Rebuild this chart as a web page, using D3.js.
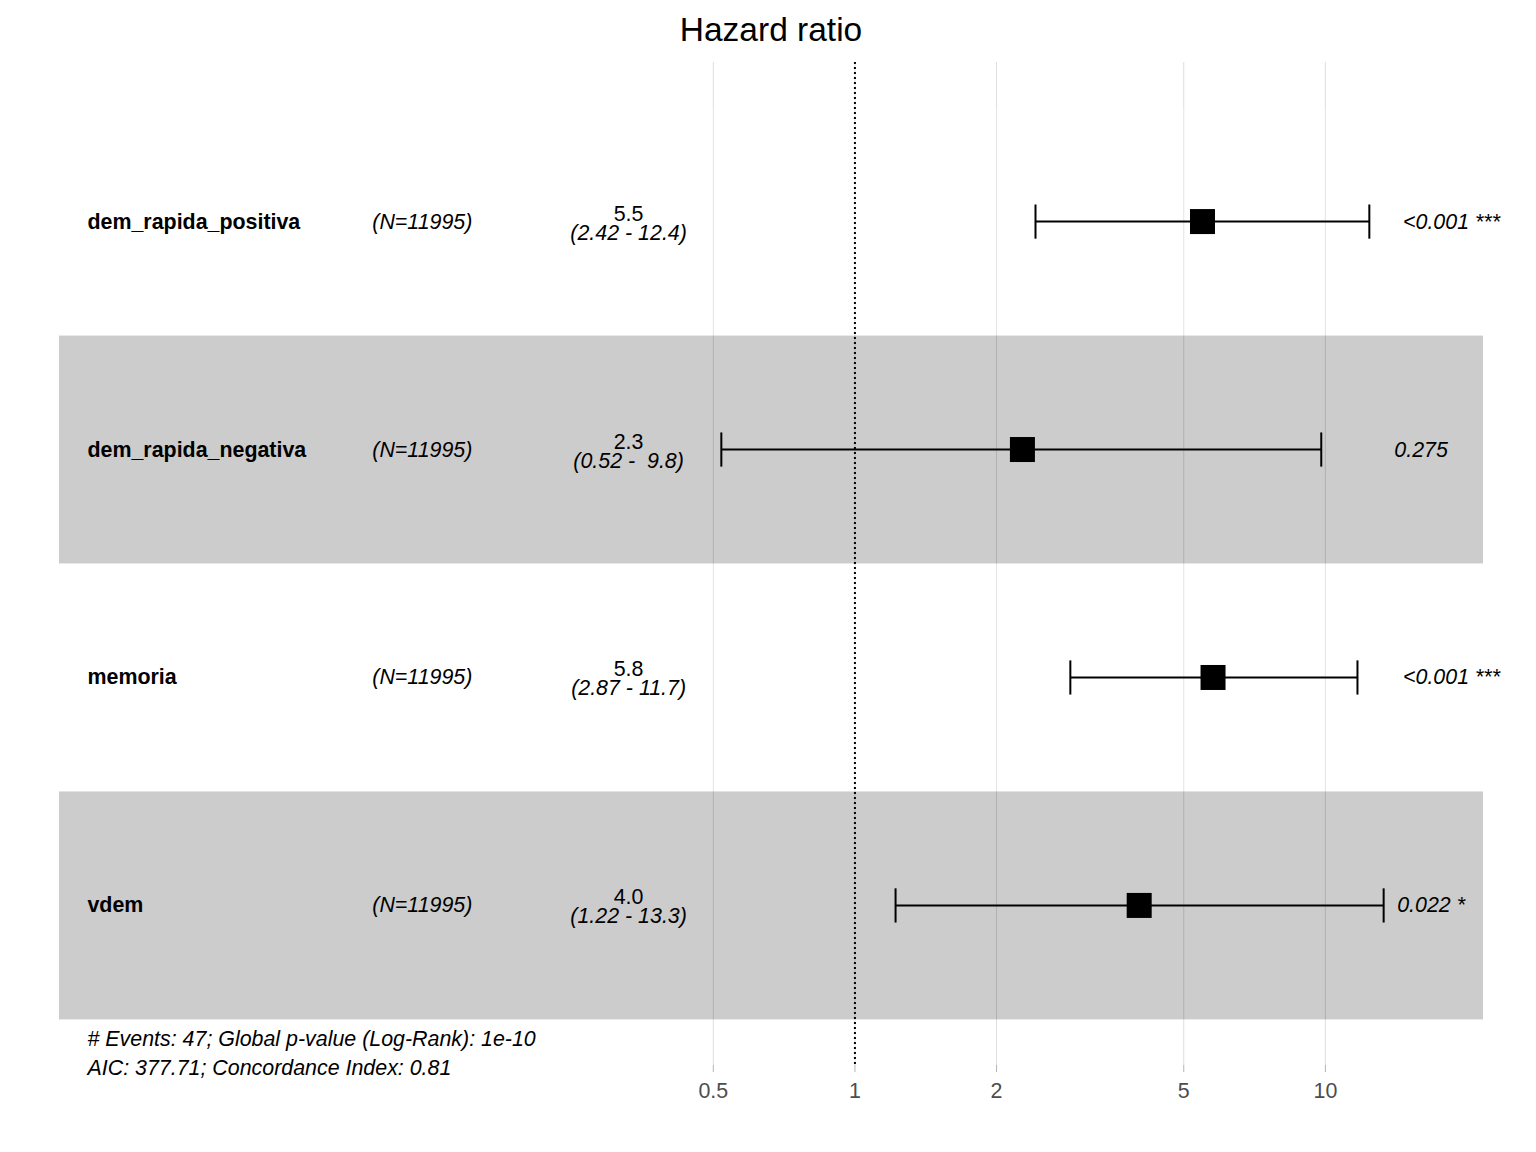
<!DOCTYPE html>
<html>
<head>
<meta charset="utf-8">
<script src="https://cdn.jsdelivr.net/npm/d3@7"></script>
<style>
  body { margin: 0; background: #fff; }
  text { font-family: 'Liberation Sans', Arial, sans-serif; }
</style>
</head>
<body>
<svg id="chart" width="1536" height="1152"></svg>
<script>
// Model rows (top to bottom)
const variables = ['dem_rapida_positiva', 'dem_rapida_negativa', 'memoria', 'vdem'];
const nLabels = ['(N=11995)', '(N=11995)', '(N=11995)', '(N=11995)'];
const hazardRatio = [5.48, 2.27, 5.77, 4.02];
const ciLow = [2.42, 0.52, 2.87, 1.22];
const ciHigh = [12.4, 9.8, 11.7, 13.3];
const pLabels = ['<0.001 ***', '0.275', '<0.001 ***', '0.022 *'];
const tickValues = [0.5, 1, 2, 5, 10];
const footerLines = [
  '# Events: 47; Global p-value (Log-Rank): 1e-10',
  'AIC: 377.71; Concordance Index: 0.81'
];

const svg = d3.select('#chart');
const panel = { top: 62, bottom: 1065, left: 59, right: 1483 };
const fontSize = 21.4;

// Horizontal layout in log space, the way the forest plot places its columns
const lnLo = Math.log(d3.min(ciLow));
const lnHi = Math.log(d3.max(ciHigh));
const span = lnHi - lnLo;
const rangePlot = [lnLo - span, lnHi + 0.15 * span];
const plotWidth = rangePlot[1] - rangePlot[0];

const x = d3.scaleLog()
  .domain([Math.exp(rangePlot[0]), Math.exp(rangePlot[1])])
  .range([panel.left, panel.right]);

const colX = p => x(Math.exp(rangePlot[0] + p * plotWidth));
const xVariable = colX(0.02);
const xN = colX(0.22);
const xCi = colX(0.4);
const xStars = x(d3.max(ciHigh));

// Vertical: rows 1..n with 5% expansion
const n = variables.length;
const y = d3.scaleLinear()
  .domain([0.5 - 0.05 * n, n + 0.5 + 0.05 * n])
  .range([panel.bottom, panel.top]);
const rowPos = i => n - i;

const g = svg.append('g');

// Vertical grid lines
g.selectAll('.grid')
  .data(tickValues)
  .enter()
  .append('line')
  .attr('x1', d => x(d)).attr('x2', d => x(d))
  .attr('y1', panel.top).attr('y2', panel.bottom)
  .attr('stroke', '#dedede')
  .attr('stroke-width', 1);

// Axis ticks
g.selectAll('.tick')
  .data(tickValues)
  .enter()
  .append('line')
  .attr('x1', d => x(d)).attr('x2', d => x(d))
  .attr('y1', panel.bottom).attr('y2', panel.bottom + 7)
  .attr('stroke', '#b3b3b3')
  .attr('stroke-width', 1);

g.selectAll('.tick-label')
  .data(tickValues)
  .enter()
  .append('text')
  .attr('x', d => x(d))
  .attr('y', 1098)
  .attr('text-anchor', 'middle')
  .attr('font-size', fontSize)
  .attr('fill', '#4d4d4d')
  .text(d => d3.format('~g')(d));

// Alternating row bands
g.selectAll('.band')
  .data(variables)
  .enter()
  .append('rect')
  .attr('x', panel.left)
  .attr('width', panel.right - panel.left)
  .attr('y', (d, i) => y(rowPos(i) + 0.5))
  .attr('height', (d, i) => y(rowPos(i) - 0.5) - y(rowPos(i) + 0.5))
  .attr('fill', (d, i) => i % 2 === 1 ? 'rgba(0,0,0,0.2)' : 'rgba(255,255,255,0.2)');

// Reference line at HR = 1
g.append('line')
  .attr('x1', x(1)).attr('x2', x(1))
  .attr('y1', panel.top).attr('y2', panel.bottom)
  .attr('stroke', '#000')
  .attr('stroke-width', 2)
  .attr('stroke-dasharray', '2,3');

// Error bars
const capHalf = 0.075 * (y(0) - y(1));
const bars = g.selectAll('.bar')
  .data(variables)
  .enter()
  .append('g');

bars.append('line')
  .attr('x1', (d, i) => x(ciLow[i]))
  .attr('x2', (d, i) => x(ciHigh[i]))
  .attr('y1', (d, i) => y(rowPos(i)))
  .attr('y2', (d, i) => y(rowPos(i)))
  .attr('stroke', '#000').attr('stroke-width', 2);

[ciLow, ciHigh].forEach(arr => {
  bars.append('line')
    .attr('x1', (d, i) => x(arr[i]))
    .attr('x2', (d, i) => x(arr[i]))
    .attr('y1', (d, i) => y(rowPos(i)) - capHalf)
    .attr('y2', (d, i) => y(rowPos(i)) + capHalf)
    .attr('stroke', '#000').attr('stroke-width', 2);
});

// Point estimates
const sq = 25;
bars.append('rect')
  .attr('x', (d, i) => x(hazardRatio[i]) - sq / 2)
  .attr('y', (d, i) => y(rowPos(i)) - sq / 2)
  .attr('width', sq).attr('height', sq)
  .attr('fill', '#000');

// Text columns
g.selectAll('.var-label')
  .data(variables)
  .enter()
  .append('text')
  .attr('x', xVariable)
  .attr('y', (d, i) => y(rowPos(i)) + 7)
  .attr('font-size', fontSize)
  .attr('font-weight', 'bold')
  .text(d => d);

g.selectAll('.n-label')
  .data(nLabels)
  .enter()
  .append('text')
  .attr('x', xN)
  .attr('y', (d, i) => y(rowPos(i)) + 7)
  .attr('font-size', fontSize)
  .attr('font-style', 'italic')
  .text(d => d);

const fmtCi = d3.format('.3~r');
const lowStr = ciLow.map(fmtCi);
const highStr = ciHigh.map(fmtCi);
const lowW = d3.max(lowStr, s => s.length);
const highW = d3.max(highStr, s => s.length);

const ci = g.selectAll('.ci-label')
  .data(variables)
  .enter()
  .append('text')
  .attr('text-anchor', 'middle')
  .attr('font-size', fontSize)
  .style('white-space', 'pre');

ci.append('tspan')
  .attr('x', xCi)
  .attr('y', (d, i) => y(rowPos(i)) - 1)
  .text((d, i) => d3.format('.1f')(hazardRatio[i]));

ci.append('tspan')
  .attr('x', xCi)
  .attr('y', (d, i) => y(rowPos(i)) + 18)
  .attr('font-style', 'italic')
  .text((d, i) => '(' + lowStr[i].padStart(lowW) + ' - ' + highStr[i].padStart(highW) + ')');

g.selectAll('.p-label')
  .data(pLabels)
  .enter()
  .append('text')
  .attr('y', (d, i) => y(rowPos(i)) + 7)
  .attr('font-size', fontSize)
  .attr('font-style', 'italic')
  .text(d => d)
  .attr('x', function() { return xStars + 0.2 * this.getComputedTextLength(); });

// Footer annotation
g.selectAll('.footer')
  .data(footerLines)
  .enter()
  .append('text')
  .attr('x', xVariable)
  .attr('y', (d, i) => 1046 + i * 29)
  .attr('font-size', fontSize)
  .attr('font-style', 'italic')
  .text(d => d);

// Title, centred over the whole panel
const pad = 0.02 * (panel.right - panel.left);
svg.append('text')
  .attr('x', (panel.left - pad + panel.right + pad) / 2)
  .attr('y', 41)
  .attr('text-anchor', 'middle')
  .attr('font-size', 33.5)
  .text('Hazard ratio');
</script>
</body>
</html>
